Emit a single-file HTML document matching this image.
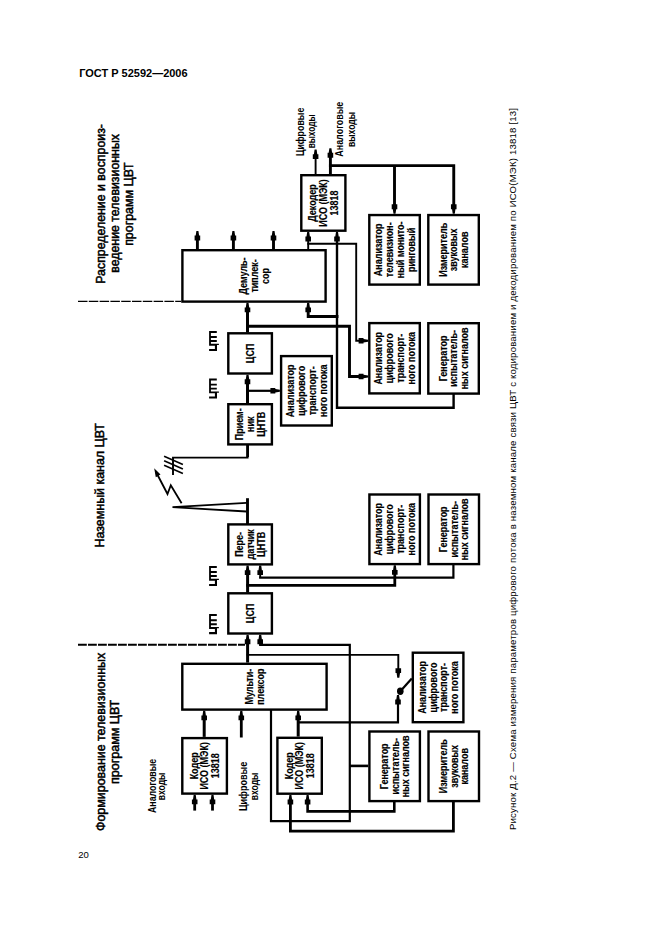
<!DOCTYPE html>
<html><head><meta charset="utf-8"><style>
html,body{margin:0;padding:0;background:#fff;}
body{width:661px;height:936px;overflow:hidden;position:relative;}
svg{position:absolute;left:0;top:0;}
text{font-family:"Liberation Sans",sans-serif;fill:#000;}
</style></head><body>
<svg width="661" height="936" viewBox="0 0 661 936">
<text x="79.2" y="76.7" font-size="10.8" font-weight="bold" textLength="108.4" lengthAdjust="spacingAndGlyphs">ГОСТ Р 52592—2006</text>
<text x="78.3" y="858" font-size="9.7" font-weight="normal" textLength="10.6" lengthAdjust="spacingAndGlyphs">20</text>
<text transform="translate(516,830) rotate(-90)" font-size="9.6" textLength="722" lengthAdjust="spacing">Рисунок Д.2 — Схема измерения параметров цифрового потока в наземном канале связи ЦВТ с кодированием и декодированием по ИСО(МЭК) 13818 [13]</text>
<text transform="translate(105.00,203.90) rotate(-90)" text-anchor="middle" font-size="13" font-weight="normal" textLength="159.7" lengthAdjust="spacingAndGlyphs" stroke="#000" stroke-width="0.5">Распределение и воспроиз-</text>
<text transform="translate(119.00,203.40) rotate(-90)" text-anchor="middle" font-size="13" font-weight="normal" textLength="138.7" lengthAdjust="spacingAndGlyphs" stroke="#000" stroke-width="0.5">ведение телевизионных</text>
<text transform="translate(133.00,204.10) rotate(-90)" text-anchor="middle" font-size="13" font-weight="normal" textLength="83.5" lengthAdjust="spacingAndGlyphs" stroke="#000" stroke-width="0.5">программ ЦВТ</text>
<text transform="translate(103.60,485.35) rotate(-90)" text-anchor="middle" font-size="13" font-weight="normal" textLength="124.3" lengthAdjust="spacingAndGlyphs" stroke="#000" stroke-width="0.5">Наземный канал ЦВТ</text>
<text transform="translate(105.00,741.90) rotate(-90)" text-anchor="middle" font-size="13" font-weight="normal" textLength="178.2" lengthAdjust="spacingAndGlyphs" stroke="#000" stroke-width="0.5">Формирование телевизионных</text>
<text transform="translate(119.00,741.90) rotate(-90)" text-anchor="middle" font-size="13" font-weight="normal" textLength="84.2" lengthAdjust="spacingAndGlyphs" stroke="#000" stroke-width="0.5">программ ЦВТ</text>
<line x1="78" y1="301.4" x2="181" y2="301.4" stroke="#000" stroke-width="1.2" stroke-dasharray="9.5 1.3"/>
<line x1="78" y1="644.8" x2="245" y2="644.8" stroke="#000" stroke-width="1.9" stroke-dasharray="8.8 1.2"/>
<path d="M209.10,330.90h1.8v14.8h-1.8zM209.10,330.90h7.7v2.0h-7.7zM209.10,336.10h7.7v1.9h-7.7zM209.10,340.10h7.7v1.9h-7.7zM209.10,343.80h7.7v1.9h-7.7zM216.80,343.80h2.1v1.3h-2.1zM214.90,344.20h2.1v6.8h-2.1zM209.10,348.90h7.9v2.1h-7.9z" fill="#000"/>
<path d="M209.10,378.50h1.8v14.8h-1.8zM209.10,378.50h7.7v2.0h-7.7zM209.10,383.70h7.7v1.9h-7.7zM209.10,387.70h7.7v1.9h-7.7zM209.10,391.40h7.7v1.9h-7.7zM216.80,391.40h2.1v1.3h-2.1zM214.90,391.80h2.1v6.8h-2.1zM209.10,396.50h7.9v2.1h-7.9z" fill="#000"/>
<path d="M209.10,565.90h1.8v14.8h-1.8zM209.10,565.90h7.7v2.0h-7.7zM209.10,571.10h7.7v1.9h-7.7zM209.10,575.10h7.7v1.9h-7.7zM209.10,578.80h7.7v1.9h-7.7zM216.80,578.80h2.1v1.3h-2.1zM214.90,579.20h2.1v6.8h-2.1zM209.10,583.90h7.9v2.1h-7.9z" fill="#000"/>
<path d="M209.10,614.10h1.8v14.8h-1.8zM209.10,614.10h7.7v2.0h-7.7zM209.10,619.30h7.7v1.9h-7.7zM209.10,623.30h7.7v1.9h-7.7zM209.10,627.00h7.7v1.9h-7.7zM216.80,627.00h2.1v1.3h-2.1zM214.90,627.40h2.1v6.8h-2.1zM209.10,632.10h7.9v2.1h-7.9z" fill="#000"/>
<text transform="translate(303.50,131.90) rotate(-90)" text-anchor="middle" font-size="10" font-weight="bold" textLength="48.4" lengthAdjust="spacingAndGlyphs">Цифровые</text>
<text transform="translate(314.50,131.35) rotate(-90)" text-anchor="middle" font-size="10" font-weight="bold" textLength="34" lengthAdjust="spacingAndGlyphs">выходы</text>
<text transform="translate(343.30,129.20) rotate(-90)" text-anchor="middle" font-size="10" font-weight="bold" textLength="55" lengthAdjust="spacingAndGlyphs">Аналоговые</text>
<text transform="translate(354.50,129.50) rotate(-90)" text-anchor="middle" font-size="10" font-weight="bold" textLength="35" lengthAdjust="spacingAndGlyphs">выходы</text>
<text transform="translate(155.50,785.95) rotate(-90)" text-anchor="middle" font-size="10" font-weight="bold" textLength="54.1" lengthAdjust="spacingAndGlyphs">Аналоговые</text>
<text transform="translate(165.00,786.40) rotate(-90)" text-anchor="middle" font-size="10" font-weight="bold" textLength="27.6" lengthAdjust="spacingAndGlyphs">входы</text>
<text transform="translate(246.50,786.40) rotate(-90)" text-anchor="middle" font-size="10" font-weight="bold" textLength="49.2" lengthAdjust="spacingAndGlyphs">Цифровые</text>
<text transform="translate(257.50,786.40) rotate(-90)" text-anchor="middle" font-size="10" font-weight="bold" textLength="27.6" lengthAdjust="spacingAndGlyphs">входы</text>
<rect x="182.40" y="250.20" width="143.20" height="51.40" fill="none" stroke="#000" stroke-width="2.4"/>
<rect x="301.30" y="175.20" width="44.10" height="55.50" fill="none" stroke="#000" stroke-width="2.4"/>
<rect x="369.30" y="215.05" width="50.50" height="69.55" fill="none" stroke="#000" stroke-width="2.4"/>
<rect x="428.30" y="215.05" width="50.50" height="69.55" fill="none" stroke="#000" stroke-width="2.4"/>
<rect x="369.30" y="323.10" width="50.50" height="70.30" fill="none" stroke="#000" stroke-width="2.4"/>
<rect x="428.30" y="323.20" width="50.50" height="70.40" fill="none" stroke="#000" stroke-width="2.4"/>
<rect x="228.30" y="333.30" width="43.60" height="40.20" fill="none" stroke="#000" stroke-width="2.4"/>
<rect x="281.10" y="356.10" width="50.70" height="69.40" fill="none" stroke="#000" stroke-width="2.4"/>
<rect x="228.30" y="404.20" width="43.60" height="40.20" fill="none" stroke="#000" stroke-width="2.4"/>
<rect x="228.30" y="524.40" width="43.60" height="40.00" fill="none" stroke="#000" stroke-width="2.4"/>
<rect x="369.40" y="494.50" width="50.50" height="69.60" fill="none" stroke="#000" stroke-width="2.4"/>
<rect x="428.50" y="494.50" width="50.50" height="69.60" fill="none" stroke="#000" stroke-width="2.4"/>
<rect x="228.30" y="593.30" width="43.60" height="40.20" fill="none" stroke="#000" stroke-width="2.4"/>
<rect x="182.30" y="663.80" width="144.30" height="45.80" fill="none" stroke="#000" stroke-width="2.4"/>
<rect x="412.80" y="652.70" width="50.60" height="69.50" fill="none" stroke="#000" stroke-width="2.4"/>
<rect x="182.30" y="738.10" width="44.60" height="55.50" fill="none" stroke="#000" stroke-width="2.4"/>
<rect x="277.40" y="737.80" width="44.40" height="55.90" fill="none" stroke="#000" stroke-width="2.4"/>
<rect x="369.40" y="731.50" width="50.50" height="69.60" fill="none" stroke="#000" stroke-width="2.4"/>
<rect x="428.50" y="731.50" width="50.50" height="69.60" fill="none" stroke="#000" stroke-width="2.4"/>
<text transform="translate(247.09,275.90) rotate(-90) scale(0.833,1)" text-anchor="middle" font-size="10.8" font-weight="bold" stroke="#000" stroke-width="0.15">Демуль-</text>
<text transform="translate(257.89,275.90) rotate(-90) scale(0.833,1)" text-anchor="middle" font-size="10.8" font-weight="bold" stroke="#000" stroke-width="0.15">типлек-</text>
<text transform="translate(268.69,275.90) rotate(-90) scale(0.833,1)" text-anchor="middle" font-size="10.8" font-weight="bold" stroke="#000" stroke-width="0.15">сор</text>
<text transform="translate(316.44,202.95) rotate(-90) scale(0.833,1)" text-anchor="middle" font-size="10.8" font-weight="bold" stroke="#000" stroke-width="0.15">Декодер</text>
<text transform="translate(327.24,202.95) rotate(-90) scale(0.833,1)" text-anchor="middle" font-size="10.8" font-weight="bold" stroke="#000" stroke-width="0.15">ИСО (МЭК)</text>
<text transform="translate(338.04,202.95) rotate(-90) scale(0.833,1)" text-anchor="middle" font-size="10.8" font-weight="bold" stroke="#000" stroke-width="0.15">13818</text>
<text transform="translate(382.24,249.82) rotate(-90) scale(0.833,1)" text-anchor="middle" font-size="10.8" font-weight="bold" stroke="#000" stroke-width="0.15">Анализатор</text>
<text transform="translate(393.04,249.82) rotate(-90) scale(0.833,1)" text-anchor="middle" font-size="10.8" font-weight="bold" stroke="#000" stroke-width="0.15">телевизион-</text>
<text transform="translate(403.84,249.82) rotate(-90) scale(0.833,1)" text-anchor="middle" font-size="10.8" font-weight="bold" stroke="#000" stroke-width="0.15">ный монито-</text>
<text transform="translate(414.64,249.82) rotate(-90) scale(0.833,1)" text-anchor="middle" font-size="10.8" font-weight="bold" stroke="#000" stroke-width="0.15">ринговый</text>
<text transform="translate(446.64,249.82) rotate(-90) scale(0.833,1)" text-anchor="middle" font-size="10.8" font-weight="bold" stroke="#000" stroke-width="0.15">Измеритель</text>
<text transform="translate(457.44,249.82) rotate(-90) scale(0.833,1)" text-anchor="middle" font-size="10.8" font-weight="bold" stroke="#000" stroke-width="0.15">звуковых</text>
<text transform="translate(468.24,249.82) rotate(-90) scale(0.833,1)" text-anchor="middle" font-size="10.8" font-weight="bold" stroke="#000" stroke-width="0.15">каналов</text>
<text transform="translate(382.24,358.25) rotate(-90) scale(0.833,1)" text-anchor="middle" font-size="10.8" font-weight="bold" stroke="#000" stroke-width="0.15">Анализатор</text>
<text transform="translate(393.04,358.25) rotate(-90) scale(0.833,1)" text-anchor="middle" font-size="10.8" font-weight="bold" stroke="#000" stroke-width="0.15">цифрового</text>
<text transform="translate(403.84,358.25) rotate(-90) scale(0.833,1)" text-anchor="middle" font-size="10.8" font-weight="bold" stroke="#000" stroke-width="0.15">транспорт-</text>
<text transform="translate(414.64,358.25) rotate(-90) scale(0.833,1)" text-anchor="middle" font-size="10.8" font-weight="bold" stroke="#000" stroke-width="0.15">ного потока</text>
<text transform="translate(446.64,358.40) rotate(-90) scale(0.833,1)" text-anchor="middle" font-size="10.8" font-weight="bold" stroke="#000" stroke-width="0.15">Генератор</text>
<text transform="translate(457.44,358.40) rotate(-90) scale(0.833,1)" text-anchor="middle" font-size="10.8" font-weight="bold" stroke="#000" stroke-width="0.15">испытатель-</text>
<text transform="translate(468.24,358.40) rotate(-90) scale(0.833,1)" text-anchor="middle" font-size="10.8" font-weight="bold" stroke="#000" stroke-width="0.15">ных сигналов</text>
<text transform="translate(253.99,353.40) rotate(-90) scale(0.833,1)" text-anchor="middle" font-size="10.8" font-weight="bold" stroke="#000" stroke-width="0.15">ЦСП</text>
<text transform="translate(294.14,390.80) rotate(-90) scale(0.833,1)" text-anchor="middle" font-size="10.8" font-weight="bold" stroke="#000" stroke-width="0.15">Анализатор</text>
<text transform="translate(304.94,390.80) rotate(-90) scale(0.833,1)" text-anchor="middle" font-size="10.8" font-weight="bold" stroke="#000" stroke-width="0.15">цифрового</text>
<text transform="translate(315.74,390.80) rotate(-90) scale(0.833,1)" text-anchor="middle" font-size="10.8" font-weight="bold" stroke="#000" stroke-width="0.15">транспорт-</text>
<text transform="translate(326.54,390.80) rotate(-90) scale(0.833,1)" text-anchor="middle" font-size="10.8" font-weight="bold" stroke="#000" stroke-width="0.15">ного потока</text>
<text transform="translate(243.19,424.30) rotate(-90) scale(0.833,1)" text-anchor="middle" font-size="10.8" font-weight="bold" stroke="#000" stroke-width="0.15">Прием-</text>
<text transform="translate(253.99,424.30) rotate(-90) scale(0.833,1)" text-anchor="middle" font-size="10.8" font-weight="bold" stroke="#000" stroke-width="0.15">ник</text>
<text transform="translate(264.79,424.30) rotate(-90) scale(0.833,1)" text-anchor="middle" font-size="10.8" font-weight="bold" stroke="#000" stroke-width="0.15">ЦНТВ</text>
<text transform="translate(243.19,544.40) rotate(-90) scale(0.833,1)" text-anchor="middle" font-size="10.8" font-weight="bold" stroke="#000" stroke-width="0.15">Пере-</text>
<text transform="translate(253.99,544.40) rotate(-90) scale(0.833,1)" text-anchor="middle" font-size="10.8" font-weight="bold" stroke="#000" stroke-width="0.15">датчик</text>
<text transform="translate(264.79,544.40) rotate(-90) scale(0.833,1)" text-anchor="middle" font-size="10.8" font-weight="bold" stroke="#000" stroke-width="0.15">ЦНТВ</text>
<text transform="translate(382.34,529.30) rotate(-90) scale(0.833,1)" text-anchor="middle" font-size="10.8" font-weight="bold" stroke="#000" stroke-width="0.15">Анализатор</text>
<text transform="translate(393.14,529.30) rotate(-90) scale(0.833,1)" text-anchor="middle" font-size="10.8" font-weight="bold" stroke="#000" stroke-width="0.15">цифрового</text>
<text transform="translate(403.94,529.30) rotate(-90) scale(0.833,1)" text-anchor="middle" font-size="10.8" font-weight="bold" stroke="#000" stroke-width="0.15">транспорт-</text>
<text transform="translate(414.74,529.30) rotate(-90) scale(0.833,1)" text-anchor="middle" font-size="10.8" font-weight="bold" stroke="#000" stroke-width="0.15">ного потока</text>
<text transform="translate(446.84,529.30) rotate(-90) scale(0.833,1)" text-anchor="middle" font-size="10.8" font-weight="bold" stroke="#000" stroke-width="0.15">Генератор</text>
<text transform="translate(457.64,529.30) rotate(-90) scale(0.833,1)" text-anchor="middle" font-size="10.8" font-weight="bold" stroke="#000" stroke-width="0.15">испытатель-</text>
<text transform="translate(468.44,529.30) rotate(-90) scale(0.833,1)" text-anchor="middle" font-size="10.8" font-weight="bold" stroke="#000" stroke-width="0.15">ных сигналов</text>
<text transform="translate(253.99,613.40) rotate(-90) scale(0.833,1)" text-anchor="middle" font-size="10.8" font-weight="bold" stroke="#000" stroke-width="0.15">ЦСП</text>
<text transform="translate(252.94,686.70) rotate(-90) scale(0.833,1)" text-anchor="middle" font-size="10.8" font-weight="bold" stroke="#000" stroke-width="0.15">Мульти-</text>
<text transform="translate(263.74,686.70) rotate(-90) scale(0.833,1)" text-anchor="middle" font-size="10.8" font-weight="bold" stroke="#000" stroke-width="0.15">плексор</text>
<text transform="translate(425.79,687.45) rotate(-90) scale(0.833,1)" text-anchor="middle" font-size="10.8" font-weight="bold" stroke="#000" stroke-width="0.15">Анализатор</text>
<text transform="translate(436.59,687.45) rotate(-90) scale(0.833,1)" text-anchor="middle" font-size="10.8" font-weight="bold" stroke="#000" stroke-width="0.15">цифрового</text>
<text transform="translate(447.39,687.45) rotate(-90) scale(0.833,1)" text-anchor="middle" font-size="10.8" font-weight="bold" stroke="#000" stroke-width="0.15">транспорт-</text>
<text transform="translate(458.19,687.45) rotate(-90) scale(0.833,1)" text-anchor="middle" font-size="10.8" font-weight="bold" stroke="#000" stroke-width="0.15">ного потока</text>
<text transform="translate(197.69,765.85) rotate(-90) scale(0.833,1)" text-anchor="middle" font-size="10.8" font-weight="bold" stroke="#000" stroke-width="0.15">Кодер</text>
<text transform="translate(208.49,765.85) rotate(-90) scale(0.833,1)" text-anchor="middle" font-size="10.8" font-weight="bold" stroke="#000" stroke-width="0.15">ИСО (МЭК)</text>
<text transform="translate(219.29,765.85) rotate(-90) scale(0.833,1)" text-anchor="middle" font-size="10.8" font-weight="bold" stroke="#000" stroke-width="0.15">13818</text>
<text transform="translate(292.69,765.75) rotate(-90) scale(0.833,1)" text-anchor="middle" font-size="10.8" font-weight="bold" stroke="#000" stroke-width="0.15">Кодер</text>
<text transform="translate(303.49,765.75) rotate(-90) scale(0.833,1)" text-anchor="middle" font-size="10.8" font-weight="bold" stroke="#000" stroke-width="0.15">ИСО (МЭК)</text>
<text transform="translate(314.29,765.75) rotate(-90) scale(0.833,1)" text-anchor="middle" font-size="10.8" font-weight="bold" stroke="#000" stroke-width="0.15">13818</text>
<text transform="translate(387.74,766.30) rotate(-90) scale(0.833,1)" text-anchor="middle" font-size="10.8" font-weight="bold" stroke="#000" stroke-width="0.15">Генератор</text>
<text transform="translate(398.54,766.30) rotate(-90) scale(0.833,1)" text-anchor="middle" font-size="10.8" font-weight="bold" stroke="#000" stroke-width="0.15">испытатель-</text>
<text transform="translate(409.34,766.30) rotate(-90) scale(0.833,1)" text-anchor="middle" font-size="10.8" font-weight="bold" stroke="#000" stroke-width="0.15">ных сигналов</text>
<text transform="translate(446.84,766.30) rotate(-90) scale(0.833,1)" text-anchor="middle" font-size="10.8" font-weight="bold" stroke="#000" stroke-width="0.15">Измеритель</text>
<text transform="translate(457.64,766.30) rotate(-90) scale(0.833,1)" text-anchor="middle" font-size="10.8" font-weight="bold" stroke="#000" stroke-width="0.15">звуковых</text>
<text transform="translate(468.44,766.30) rotate(-90) scale(0.833,1)" text-anchor="middle" font-size="10.8" font-weight="bold" stroke="#000" stroke-width="0.15">каналов</text>
<line x1="197.40" y1="249.50" x2="197.40" y2="238.00" stroke="#000" stroke-width="2.9"/>
<polygon points="196.38,230.90 195.70,235.50 194.60,235.50 194.60,240.40 200.20,240.40 200.20,235.50 199.10,235.50 198.42,230.90" fill="#000"/>
<line x1="233.40" y1="249.50" x2="233.40" y2="238.00" stroke="#000" stroke-width="2.9"/>
<polygon points="232.38,230.90 231.70,235.50 230.60,235.50 230.60,240.40 236.20,240.40 236.20,235.50 235.10,235.50 234.42,230.90" fill="#000"/>
<line x1="273.50" y1="249.50" x2="273.50" y2="238.00" stroke="#000" stroke-width="2.9"/>
<polygon points="272.48,230.90 271.80,235.50 270.70,235.50 270.70,240.40 276.30,240.40 276.30,235.50 275.20,235.50 274.52,230.90" fill="#000"/>
<line x1="315.60" y1="174.50" x2="315.60" y2="156.00" stroke="#000" stroke-width="1.9"/>
<polygon points="314.58,149.60 313.90,154.20 312.80,154.20 312.80,159.10 318.40,159.10 318.40,154.20 317.30,154.20 316.62,149.60" fill="#000"/>
<line x1="330.40" y1="174.50" x2="330.40" y2="156.00" stroke="#000" stroke-width="2.9"/>
<polygon points="329.38,148.20 328.70,152.80 327.60,152.80 327.60,157.70 333.20,157.70 333.20,152.80 332.10,152.80 331.42,148.20" fill="#000"/>
<polyline points="330.40,165.60 453.75,165.60 453.75,205.00" fill="none" stroke="#000" stroke-width="2.9" stroke-linejoin="miter" stroke-linecap="square"/>
<line x1="394.50" y1="165.60" x2="394.50" y2="205.00" stroke="#000" stroke-width="2.9"/>
<polygon points="393.48,213.85 392.80,209.25 391.70,209.25 391.70,204.35 397.30,204.35 397.30,209.25 396.20,209.25 395.52,213.85" fill="#000"/>
<polygon points="452.73,213.85 452.05,209.25 450.95,209.25 450.95,204.35 456.55,204.35 456.55,209.25 455.45,209.25 454.77,213.85" fill="#000"/>
<line x1="308.20" y1="249.50" x2="308.20" y2="240.00" stroke="#000" stroke-width="1.9"/>
<polygon points="307.18,231.90 306.50,236.50 305.40,236.50 305.40,241.40 311.00,241.40 311.00,236.50 309.90,236.50 309.22,231.90" fill="#000"/>
<polyline points="308.20,243.80 356.20,243.80 356.20,340.80 361.00,340.80" fill="none" stroke="#000" stroke-width="1.9" stroke-linejoin="miter" stroke-linecap="square"/>
<polygon points="368.10,339.78 363.50,339.10 363.50,338.00 358.60,338.00 358.60,343.60 363.50,343.60 363.50,342.50 368.10,341.82" fill="#000"/>
<polyline points="453.60,394.80 453.60,407.70 337.00,407.70 337.00,240.00" fill="none" stroke="#000" stroke-width="2.4" stroke-linejoin="miter" stroke-linecap="square"/>
<polygon points="335.98,231.90 335.30,236.50 334.20,236.50 334.20,241.40 339.80,241.40 339.80,236.50 338.70,236.50 338.02,231.90" fill="#000"/>
<polyline points="337.00,316.50 308.20,316.50 308.20,311.00" fill="none" stroke="#000" stroke-width="2.9" stroke-linejoin="miter" stroke-linecap="square"/>
<polygon points="307.18,302.80 306.50,307.40 305.40,307.40 305.40,312.30 311.00,312.30 311.00,307.40 309.90,307.40 309.22,302.80" fill="#000"/>
<line x1="247.50" y1="332.50" x2="247.50" y2="311.00" stroke="#000" stroke-width="3.0"/>
<polygon points="246.48,302.80 245.80,307.40 244.70,307.40 244.70,312.30 250.30,312.30 250.30,307.40 249.20,307.40 248.52,302.80" fill="#000"/>
<polyline points="247.50,326.30 349.50,326.30 349.50,376.50 361.00,376.50" fill="none" stroke="#000" stroke-width="2.9" stroke-linejoin="miter" stroke-linecap="square"/>
<polygon points="368.10,375.48 363.50,374.80 363.50,373.70 358.60,373.70 358.60,379.30 363.50,379.30 363.50,378.20 368.10,377.52" fill="#000"/>
<line x1="247.50" y1="403.00" x2="247.50" y2="383.00" stroke="#000" stroke-width="3.0"/>
<polygon points="246.48,374.70 245.80,379.30 244.70,379.30 244.70,384.20 250.30,384.20 250.30,379.30 249.20,379.30 248.52,374.70" fill="#000"/>
<line x1="247.50" y1="390.80" x2="273.00" y2="390.80" stroke="#000" stroke-width="2.2"/>
<polygon points="279.90,389.78 275.30,389.10 275.30,388.00 270.40,388.00 270.40,393.60 275.30,393.60 275.30,392.50 279.90,391.82" fill="#000"/>
<polyline points="247.60,445.30 247.60,457.60 173.00,457.60 173.00,474.00" fill="none" stroke="#000" stroke-width="1.9" stroke-linejoin="miter" stroke-linecap="square"/>
<line x1="247.6" y1="445" x2="247.6" y2="457" stroke="#000" stroke-width="2.8"/>
<line x1="164.10" y1="456.30" x2="182.90" y2="464.60" stroke="#000" stroke-width="1.6"/>
<line x1="164.10" y1="460.80" x2="182.90" y2="469.10" stroke="#000" stroke-width="1.6"/>
<line x1="164.10" y1="465.30" x2="182.90" y2="473.60" stroke="#000" stroke-width="1.6"/>
<polyline points="181.6,503.2 170.8,485.3 167.5,494 156,472" fill="none" stroke="#000" stroke-width="1.8"/>
<polygon points="154.2,468.2 160.5,474.5 155.8,477.2" fill="#000"/>
<line x1="247.50" y1="498.20" x2="247.50" y2="524.50" stroke="#000" stroke-width="2.9"/>
<polyline points="246.5,502.9 172.5,507.2 246.5,511.5" fill="none" stroke="#000" stroke-width="1.8"/>
<line x1="247.60" y1="592.60" x2="247.60" y2="574.00" stroke="#000" stroke-width="3.0"/>
<polygon points="246.58,565.60 245.90,570.20 244.80,570.20 244.80,575.10 250.40,575.10 250.40,570.20 249.30,570.20 248.62,565.60" fill="#000"/>
<line x1="260.20" y1="577.60" x2="260.20" y2="574.00" stroke="#000" stroke-width="1.9"/>
<polygon points="259.18,565.60 258.50,570.20 257.40,570.20 257.40,575.10 263.00,575.10 263.00,570.20 261.90,570.20 261.22,565.60" fill="#000"/>
<polyline points="260.20,577.60 453.40,577.60 453.40,565.30" fill="none" stroke="#000" stroke-width="2.2" stroke-linejoin="miter" stroke-linecap="square"/>
<polyline points="247.60,585.30 394.80,585.30 394.80,573.00" fill="none" stroke="#000" stroke-width="2.8" stroke-linejoin="miter" stroke-linecap="square"/>
<polygon points="393.78,565.30 393.10,569.90 392.00,569.90 392.00,574.80 397.60,574.80 397.60,569.90 396.50,569.90 395.82,565.30" fill="#000"/>
<line x1="247.60" y1="662.60" x2="247.60" y2="643.00" stroke="#000" stroke-width="3.0"/>
<polygon points="246.58,634.70 245.90,639.30 244.80,639.30 244.80,644.20 250.40,644.20 250.40,639.30 249.30,639.30 248.62,634.70" fill="#000"/>
<line x1="260.20" y1="644.90" x2="260.20" y2="643.00" stroke="#000" stroke-width="1.9"/>
<polygon points="259.18,634.70 258.50,639.30 257.40,639.30 257.40,644.20 263.00,644.20 263.00,639.30 261.90,639.30 261.22,634.70" fill="#000"/>
<polyline points="260.20,644.90 349.80,644.90 349.80,821.10 271.00,821.10 271.00,710.80" fill="none" stroke="#000" stroke-width="2.2" stroke-linejoin="miter" stroke-linecap="square"/>
<line x1="349.80" y1="765.90" x2="368.20" y2="765.90" stroke="#000" stroke-width="2.6"/>
<polyline points="247.60,654.90 398.30,654.90 398.30,670.00" fill="none" stroke="#000" stroke-width="1.9" stroke-linejoin="miter" stroke-linecap="square"/>
<polygon points="397.28,677.70 396.60,673.10 395.50,673.10 395.50,668.20 401.10,668.20 401.10,673.10 400.00,673.10 399.32,677.70" fill="#000"/>
<ellipse cx="400.3" cy="691.3" rx="3.3" ry="3.7" fill="#000"/>
<line x1="400.30" y1="691.30" x2="411.80" y2="678.40" stroke="#000" stroke-width="2.2"/>
<polygon points="396.98,695.00 396.30,699.60 395.20,699.60 395.20,704.50 400.80,704.50 400.80,699.60 399.70,699.60 399.02,695.00" fill="#000"/>
<polyline points="398.00,703.00 398.00,722.40 298.20,722.40" fill="none" stroke="#000" stroke-width="2.2" stroke-linejoin="miter" stroke-linecap="square"/>
<line x1="298.20" y1="736.60" x2="298.20" y2="718.00" stroke="#000" stroke-width="3.0"/>
<polygon points="297.18,710.80 296.50,715.40 295.40,715.40 295.40,720.30 301.00,720.30 301.00,715.40 299.90,715.40 299.22,710.80" fill="#000"/>
<line x1="204.20" y1="736.90" x2="204.20" y2="718.00" stroke="#000" stroke-width="3.0"/>
<polygon points="203.18,710.80 202.50,715.40 201.40,715.40 201.40,720.30 207.00,720.30 207.00,715.40 205.90,715.40 205.22,710.80" fill="#000"/>
<line x1="241.30" y1="737.50" x2="241.30" y2="718.00" stroke="#000" stroke-width="2.8"/>
<polygon points="240.28,710.80 239.60,715.40 238.50,715.40 238.50,720.30 244.10,720.30 244.10,715.40 243.00,715.40 242.32,710.80" fill="#000"/>
<line x1="194.70" y1="810.60" x2="194.70" y2="802.00" stroke="#000" stroke-width="2.8"/>
<polygon points="193.68,794.80 193.00,799.40 191.90,799.40 191.90,804.30 197.50,804.30 197.50,799.40 196.40,799.40 195.72,794.80" fill="#000"/>
<line x1="212.50" y1="810.60" x2="212.50" y2="802.00" stroke="#000" stroke-width="2.8"/>
<polygon points="211.48,794.80 210.80,799.40 209.70,799.40 209.70,804.30 215.30,804.30 215.30,799.40 214.20,799.40 213.52,794.80" fill="#000"/>
<polyline points="290.40,802.00 290.40,831.20 453.40,831.20 453.40,802.30" fill="none" stroke="#000" stroke-width="2.8" stroke-linejoin="miter" stroke-linecap="square"/>
<polygon points="289.38,794.90 288.70,799.50 287.60,799.50 287.60,804.40 293.20,804.40 293.20,799.50 292.10,799.50 291.42,794.90" fill="#000"/>
<polyline points="307.60,802.00 307.60,811.40 394.30,811.40 394.30,802.30" fill="none" stroke="#000" stroke-width="2.6" stroke-linejoin="miter" stroke-linecap="square"/>
<polygon points="306.58,794.90 305.90,799.50 304.80,799.50 304.80,804.40 310.40,804.40 310.40,799.50 309.30,799.50 308.62,794.90" fill="#000"/>
</svg>
</body></html>
